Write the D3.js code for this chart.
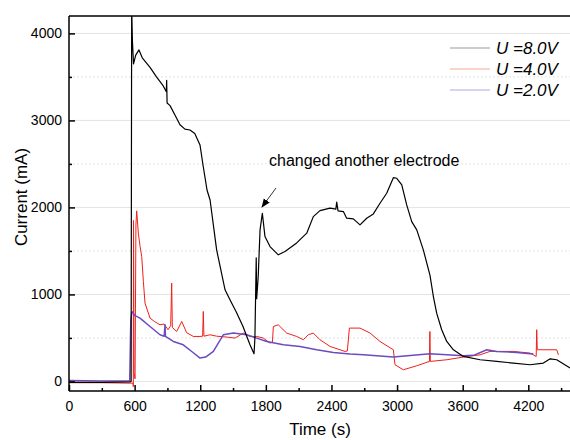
<!DOCTYPE html>
<html>
<head>
<meta charset="utf-8">
<script src="https://cdn.jsdelivr.net/npm/d3@7"></script>
<style>
  body { margin: 0; background: #fff; }
  text { font-family: "Liberation Sans", Arial, sans-serif; }
</style>
</head>
<body>
<div id="chart"></div>
<script>
var vWidth = 570;
var vHeight = 440;

// U = 8.0V
var time8 = [0, 300, 560, 568, 573, 580, 590, 610, 640, 670, 741, 800, 860, 890, 893, 897, 924, 970, 1015, 1060, 1106, 1150, 1198, 1225, 1262, 1290, 1350, 1427, 1472, 1533, 1592, 1655, 1692, 1700, 1712, 1716, 1730, 1747, 1768, 1792, 1838, 1914, 1975, 2082, 2174, 2234, 2295, 2387, 2440, 2448, 2460, 2509, 2539, 2600, 2661, 2722, 2783, 2844, 2905, 2966, 2997, 3043, 3088, 3134, 3180, 3240, 3301, 3332, 3362, 3408, 3454, 3515, 3606, 3759, 3911, 4063, 4216, 4338, 4400, 4460, 4582];
var current8 = [-10, -10, -5, 0, 4300, 3910, 3650, 3750, 3810, 3720, 3610, 3500, 3400, 3330, 3460, 3200, 3170, 3060, 2950, 2900, 2890, 2850, 2717, 2490, 2200, 2085, 1512, 1053, 938, 789, 628, 421, 318, 500, 1420, 950, 1200, 1742, 1933, 1665, 1550, 1455, 1493, 1592, 1704, 1894, 1963, 1991, 1980, 2060, 1960, 1952, 1876, 1868, 1799, 1876, 1925, 2048, 2163, 2342, 2335, 2258, 2029, 1837, 1742, 1512, 1220, 976, 785, 594, 459, 364, 287, 249, 230, 211, 192, 211, 260, 249, 154];

// U = 4.0V
var time4 = [0, 300, 560, 585, 588, 590, 595, 604, 612, 619, 634, 650, 665, 680, 695, 741, 780, 832, 870, 905, 930, 939, 945, 985, 1031, 1076, 1137, 1198, 1222, 1228, 1234, 1289, 1350, 1442, 1518, 1594, 1655, 1716, 1777, 1838, 1860, 1869, 1914, 1990, 2082, 2143, 2188, 2234, 2295, 2387, 2478, 2524, 2545, 2564, 2661, 2753, 2844, 2966, 2981, 3057, 3180, 3296, 3300, 3304, 3454, 3606, 3759, 3850, 4063, 4216, 4272, 4277, 4282, 4307, 4460, 4475];
var current4 = [-15, -15, -20, -20, -60, 1850, 100, 30, 1800, 1960, 1704, 1550, 1435, 1150, 900, 728, 690, 651, 660, 594, 640, 1130, 620, 574, 689, 560, 517, 517, 520, 804, 520, 536, 520, 510, 498, 556, 517, 517, 498, 441, 450, 631, 651, 556, 517, 479, 536, 556, 479, 402, 364, 345, 350, 613, 613, 556, 459, 364, 192, 134, 180, 230, 574, 230, 249, 280, 306, 345, 345, 326, 287, 594, 364, 364, 364, 306];

// U = 2.0V
var time2 = [0, 300, 555, 565, 573, 580, 600, 649, 741, 832, 870, 878, 882, 954, 1045, 1137, 1198, 1250, 1320, 1411, 1503, 1625, 1716, 1808, 1960, 2113, 2265, 2417, 2570, 2692, 2966, 3301, 3606, 3700, 3820, 3911, 4094, 4216, 4246];
var current2 = [10, 5, 5, 700, 785, 800, 760, 728, 631, 536, 520, 651, 517, 459, 421, 330, 268, 280, 345, 536, 556, 536, 498, 459, 421, 402, 364, 333, 314, 306, 280, 318, 295, 300, 364, 345, 333, 318, 318];

var xTicks = [0, 600, 1200, 1800, 2400, 3000, 3600, 4200];
var yTicks = [0, 1000, 2000, 3000, 4000];
var legendLabels = ["U =8.0V", "U =4.0V", "U =2.0V"];

var svg = d3.select("#chart")
            .append("svg")
            .attr("width", vWidth)
            .attr("height", vHeight);

var pLeft = 69, pRight = 575, pTop = 16, pBottom = 391;

var x = d3.scaleLinear().domain([0, 4627]).range([pLeft, pRight]);
var y = d3.scaleLinear().domain([-110, 4200]).range([pBottom, pTop]);

// grid
svg.append("g").selectAll("line")
    .data(yTicks)
    .enter().append("line")
    .attr("x1", pLeft).attr("x2", pRight)
    .attr("y1", d => y(d)).attr("y2", d => y(d))
    .attr("stroke", "#e4e4e4").attr("stroke-width", 1);

svg.append("g").selectAll("line")
    .data(yTicks.map(d => d + 500).filter(d => d < 4200))
    .enter().append("line")
    .attr("x1", pLeft).attr("x2", pRight)
    .attr("y1", d => y(d)).attr("y2", d => y(d))
    .attr("stroke", "#e4e4e4").attr("stroke-width", 1)
    .attr("stroke-dasharray", "2,2");

svg.append("clipPath").attr("id", "clip")
    .append("rect")
    .attr("x", pLeft).attr("y", pTop)
    .attr("width", pRight - pLeft).attr("height", pBottom - pTop);

var line = d3.line().x(d => x(d[0])).y(d => y(d[1]));

var plot = svg.append("g").attr("clip-path", "url(#clip)");

function addSeries(times, values, color, width) {
    plot.append("path")
        .datum(d3.zip(times, values))
        .attr("d", line)
        .attr("fill", "none")
        .attr("stroke", color)
        .attr("stroke-width", width)
        .attr("stroke-linejoin", "round");
}

addSeries(time4, current4, "#f0201a", 1);
addSeries(time2, current2, "#6a4cc0", 1.5);
addSeries(time8, current8, "#000000", 1.2);

// axes
var fmt = d3.format("d");
var xAxis = d3.axisBottom(x).tickValues(xTicks).tickSize(-6).tickPadding(10).tickFormat(fmt);
var xMinor = d3.axisBottom(x).tickValues(xTicks.map(d => d + 300)).tickSize(-3).tickFormat("");
var yAxis = d3.axisLeft(y).tickValues(yTicks).tickSize(-6).tickPadding(7).tickFormat(fmt);
var yMinor = d3.axisLeft(y).tickValues([500, 1500, 2500, 3500]).tickSize(-3).tickFormat("");

function styleAxis(g) {
    g.select(".domain").remove();
    g.selectAll("line").attr("stroke", "#000").attr("stroke-width", 1.5);
    g.selectAll("text").attr("font-size", 14).attr("fill", "#000")
        .attr("font-family", "Liberation Sans, Arial, sans-serif");
}

svg.append("g").attr("transform", `translate(0,${pBottom})`).call(xAxis).call(styleAxis);
svg.append("g").attr("transform", `translate(0,${pBottom})`).call(xMinor).call(styleAxis);
svg.append("g").attr("transform", `translate(${pLeft},0)`).call(yAxis).call(styleAxis);
svg.append("g").attr("transform", `translate(${pLeft},0)`).call(yMinor).call(styleAxis);

// frame
svg.append("line").attr("x1", pLeft).attr("x2", pLeft).attr("y1", pTop).attr("y2", pBottom)
    .attr("stroke", "#000").attr("stroke-width", 1.5);
svg.append("line").attr("x1", pLeft).attr("x2", pRight).attr("y1", pBottom).attr("y2", pBottom)
    .attr("stroke", "#000").attr("stroke-width", 1.5);
svg.append("line").attr("x1", pLeft).attr("x2", pRight).attr("y1", pTop).attr("y2", pTop)
    .attr("stroke", "#000").attr("stroke-width", 1.5);

// axis titles
svg.append("text")
    .text("Time (s)")
    .attr("x", 320).attr("y", 435)
    .attr("text-anchor", "middle")
    .attr("font-size", 17);

svg.append("text")
    .text("Current (mA)")
    .attr("transform", "translate(27,197) rotate(-90)")
    .attr("text-anchor", "middle")
    .attr("font-size", 17);

// legend
var legendColors = ["#9a9a9a", "#f5a898", "#b4a6e4"];
var legend = svg.append("g")
    .attr("font-size", 17)
    .attr("font-style", "italic");

legendLabels.forEach(function (lbl, i) {
    var ly = 48 + i * 21;
    legend.append("line")
        .attr("x1", 450).attr("x2", 490)
        .attr("y1", ly).attr("y2", ly)
        .attr("stroke", legendColors[i]).attr("stroke-width", 1.2);
    legend.append("text")
        .text(lbl)
        .attr("x", 496).attr("y", ly + 6);
});

// annotation
svg.append("defs").append("marker")
    .attr("id", "arrow")
    .attr("viewBox", "0 0 10 10")
    .attr("refX", 9).attr("refY", 5)
    .attr("markerWidth", 9).attr("markerHeight", 9)
    .attr("markerUnits", "userSpaceOnUse")
    .attr("orient", "auto")
    .append("path")
    .attr("d", "M0,1 L10,5 L0,9 Z")
    .attr("fill", "#000");

svg.append("text")
    .text("changed another electrode")
    .attr("x", 269).attr("y", 166)
    .attr("font-size", 16);

svg.append("line")
    .attr("x1", 276).attr("y1", 188)
    .attr("x2", 262).attr("y2", 207)
    .attr("stroke", "#000").attr("stroke-width", 0.8)
    .attr("marker-end", "url(#arrow)");
</script>
</body>
</html>
